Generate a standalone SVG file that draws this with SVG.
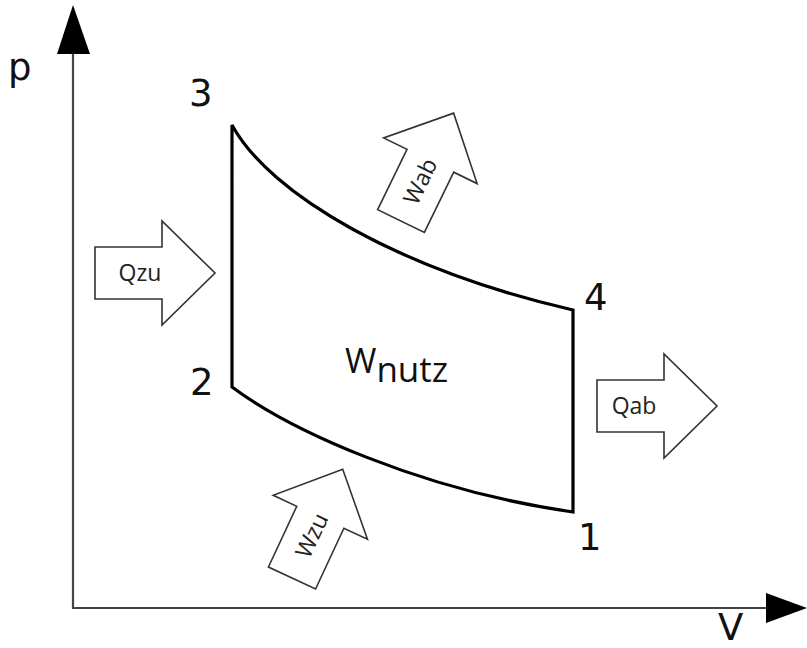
<svg xmlns="http://www.w3.org/2000/svg" width="807" height="648" viewBox="0 0 807 648">
<style>
.axis{stroke:#444;stroke-width:2.2;fill:none}
.cyc{stroke:#000;stroke-width:3.2;fill:none;stroke-linejoin:miter}
.arr{fill:#fff;stroke:#333;stroke-width:1.6;stroke-linejoin:miter}
.lbl{font-family:"DejaVu Sans",Verdana,sans-serif;font-size:37px;fill:#111}
.al{font-family:"Open Sans","DejaVu Sans",sans-serif;font-size:23px;fill:#222;text-anchor:middle}
.wn{font-family:"Open Sans","DejaVu Sans",sans-serif;font-size:35px;fill:#111}
</style>
<defs>
<path id="bigArrow" d="M0,-26 H67 V-52 L120,0 L67,52 V26 H0 Z"/>
</defs>
<g id="axes">
<line class="axis" x1="73" y1="608" x2="73" y2="50"/>
<polygon points="73,5 57,54 90,54" fill="#000"/>
<line class="axis" x1="72" y1="608" x2="770" y2="608"/>
<polygon points="807,608 766,593 766,623" fill="#000"/>
<text class="lbl" x="8" y="80">p</text>
<text class="lbl" x="718" y="640" font-size="34">V</text>
</g>
<g id="connectors">
<path class="cyc" d="M573,512 C420,490 290,430 232,387 V125 C270,195 400,270 573,310 Z"/>
</g>
<g id="n3"><text class="lbl" x="189" y="106">3</text></g>
<g id="n4"><text class="lbl" x="584" y="310">4</text></g>
<g id="n2"><text class="lbl" x="190" y="395">2</text></g>
<g id="n1"><text class="lbl" x="578" y="550">1</text></g>
<g id="wnutz"><text class="wn" x="345" y="373"><tspan font-size="34">W</tspan><tspan dy="9">nutz</tspan></text></g>
<g id="qzu" transform="translate(95,273)">
<use href="#bigArrow" class="arr"/>
<text class="al" x="45" y="8">Qzu</text>
</g>
<g id="qab" transform="translate(597,406)">
<use href="#bigArrow" class="arr"/>
<text class="al" x="37" y="8">Qab</text>
</g>
<g id="wab" transform="translate(401,221) rotate(-64)">
<use href="#bigArrow" class="arr"/>
<text class="al" x="44" y="8">Wab</text>
</g>
<g id="wzu" transform="translate(292,578) rotate(-65)">
<use href="#bigArrow" class="arr"/>
<text class="al" x="47" y="8">Wzu</text>
</g>
</svg>
